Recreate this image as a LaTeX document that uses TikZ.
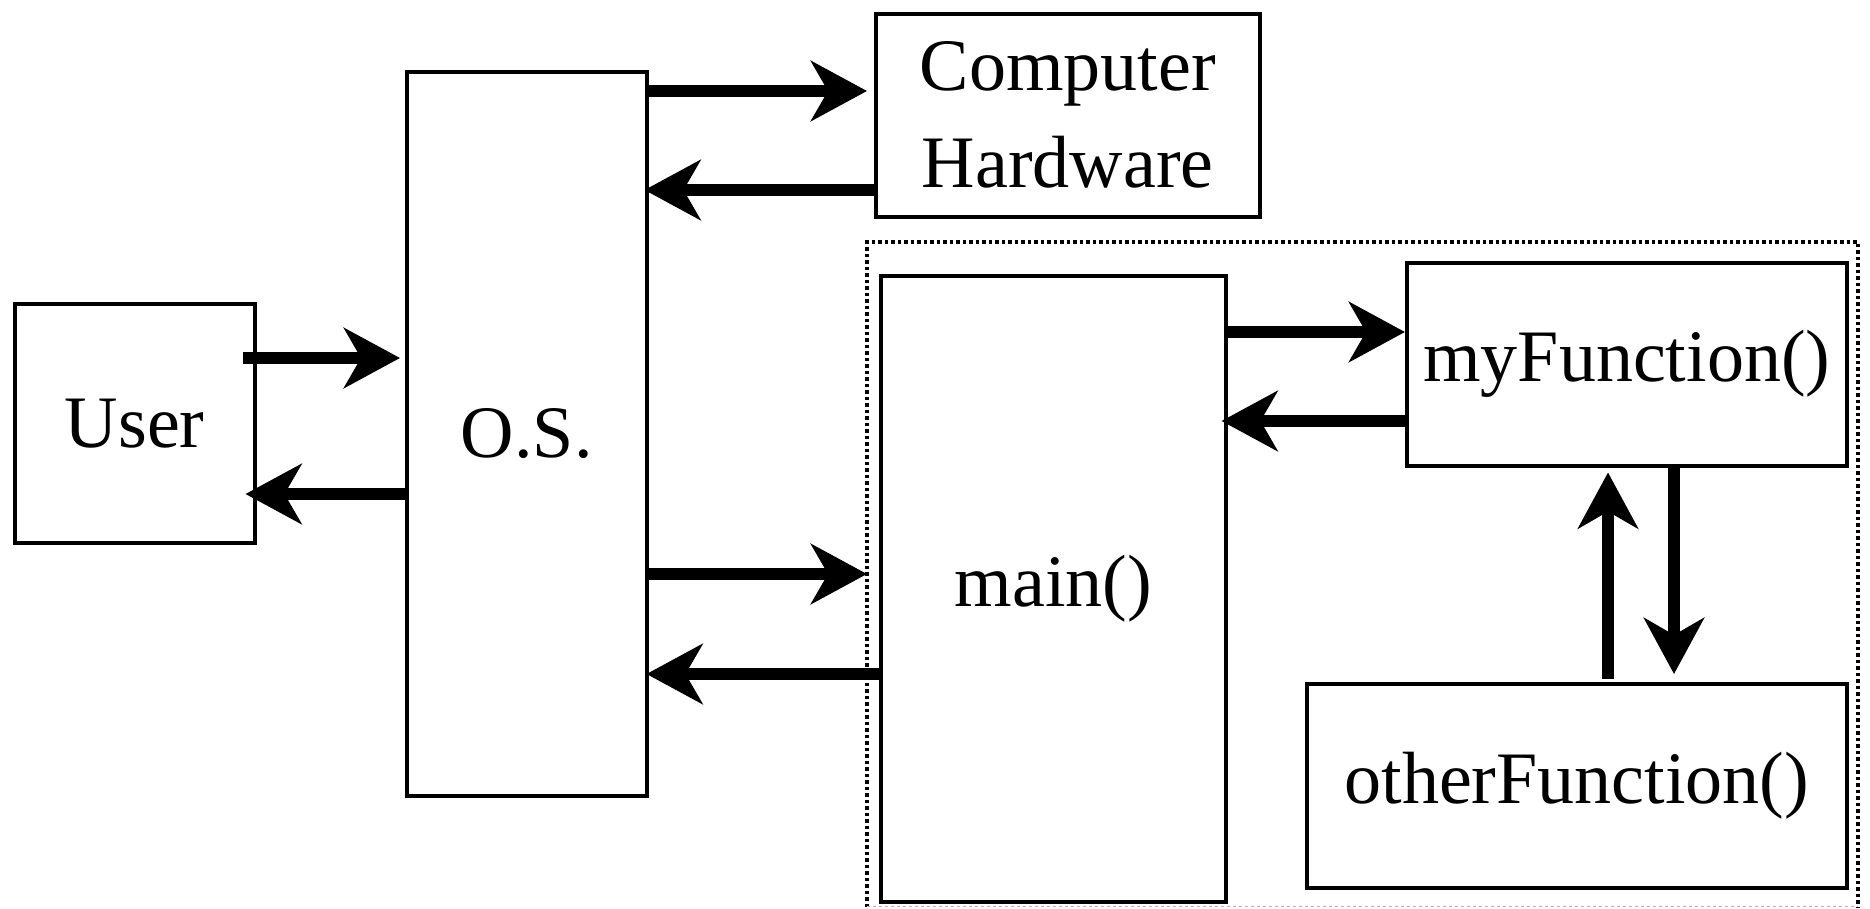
\documentclass[tikz,border=0pt]{standalone}
\usepackage{fontspec}
\setmainfont{Liberation Serif}
\usetikzlibrary{arrows.meta,calc}
\tikzset{
  box/.style={draw, line width=3.5pt, anchor=north west, inner sep=0pt, align=center, font=\fontsize{74}{97}\selectfont},
  arr/.style={line width=12pt, -{Stealth[length=56pt, width=60pt, inset=17pt]}},
  grp/.style={line width=3.5pt, dash pattern=on 3.5pt off 3pt}
}
\begin{document}
\begin{tikzpicture}[x=1pt, y=-1pt]
\useasboundingbox (0,0) rectangle (1870,908);
\node[box, minimum width=240pt, minimum height=239pt] (user) at (13,302) {User};
\node[box, minimum width=240pt, minimum height=724pt] (os) at (405,70) {O.S.};
\node[box, minimum width=384pt, minimum height=203pt] (ch) at (874,12) {Computer\\Hardware};
\draw[grp] (867,907) -- (867,242) -- (1858,242) -- (1858,907);
\draw[gray!60, line width=1pt, dashed] (867,906.5) -- (1858,906.5);
\node[box, minimum width=345pt, minimum height=626pt] (main) at (879,274) {main()};
\node[box, minimum width=440pt, minimum height=203pt] (myf) at (1405,261) {myFunction()};
\node[box, minimum width=540pt, minimum height=204pt] (other) at (1305,682) {otherFunction()};
\draw[arr] ($(os.north east)+(0,21)$) -- ($(ch.north west)+(-7,79)$);
\draw[arr] ($(ch.north west)+(0,178)$) -- ($(os.north east)+(-4,120)$);
\draw[arr] ($(user.north east)+(-14,56)$) -- ($(os.north west)+(-5,288)$);
\draw[arr] ($(os.north west)+(0,424)$) -- ($(user.north east)+(-11,192)$);
\draw[arr] ($(os.north east)+(0,504)$) -- ($(main.north west)+(-12,300)$);
\draw[arr] ($(main.north west)+(0,400)$) -- ($(os.north east)+(-2,604)$);
\draw[arr] ($(main.north east)+(0,58)$) -- ($(myf.north west)+(0,71)$);
\draw[arr] ($(myf.north west)+(0,160)$) -- ($(main.north east)+(-6,147)$);
\draw[arr] ($(other.north west)+(303,-3)$) -- ($(myf.south west)+(203,5)$);
\draw[arr] ($(myf.south west)+(269,0)$) -- ($(other.north west)+(369,-8)$);
\end{tikzpicture}
\end{document}
